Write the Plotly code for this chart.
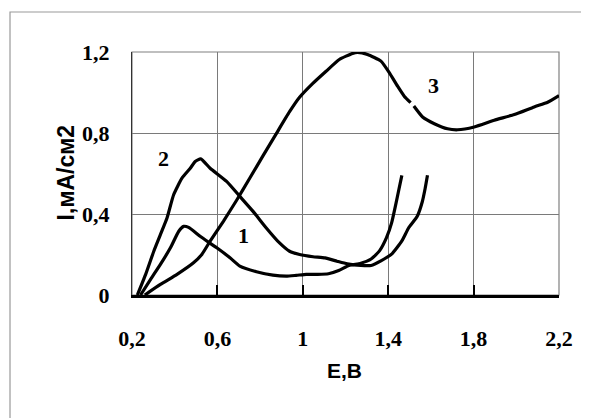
import plotly.graph_objects as go

# Curve 1
x1 = [0.24, 0.287, 0.333, 0.38, 0.419, 0.442, 0.465, 0.519, 0.597, 0.659, 0.705, 0.783, 0.86, 0.922,
      0.969, 1.016, 1.07, 1.12, 1.168, 1.216, 1.272, 1.32, 1.36, 1.392, 1.416, 1.435, 1.451, 1.464]
y1 = [0.0, 0.077, 0.151, 0.233, 0.315, 0.339, 0.334, 0.29, 0.233, 0.184, 0.143, 0.115, 0.098, 0.093,
      0.097, 0.102, 0.102, 0.105, 0.121, 0.146, 0.157, 0.178, 0.219, 0.283, 0.356, 0.445, 0.526, 0.591]

# Curve 2
x2 = [0.225, 0.264, 0.302, 0.333, 0.364, 0.395, 0.434, 0.473, 0.496, 0.522, 0.566, 0.643, 0.705,
      0.767, 0.829, 0.891, 0.938, 0.985, 1.048, 1.104, 1.16, 1.208, 1.272, 1.32, 1.368, 1.416, 1.464,
      1.496, 1.536, 1.56, 1.573, 1.584]
y2 = [0.0, 0.102, 0.216, 0.298, 0.38, 0.495, 0.577, 0.626, 0.659, 0.672, 0.626, 0.561, 0.487,
      0.413, 0.331, 0.257, 0.216, 0.2, 0.189, 0.183, 0.167, 0.154, 0.146, 0.146, 0.17, 0.202, 0.267,
      0.332, 0.389, 0.462, 0.526, 0.591]

# Curve 3 (small break in the original line near E=1.51)
x3 = [0.26, 0.333, 0.411, 0.488, 0.527, 0.566, 0.628, 0.69, 0.752, 0.814, 0.876, 0.938, 0.984,
      1.047, 1.109, 1.171, 1.233, 1.256, 1.303, 1.366, 1.405, 1.444, 1.475, 1.505, None,
      1.52, 1.561, 1.616, 1.678, 1.725, 1.803, 1.897, 1.991, 2.084, 2.147, 2.2]
y3 = [0.0, 0.052, 0.102, 0.159, 0.2, 0.266, 0.364, 0.468, 0.578, 0.688, 0.797, 0.905, 0.975,
      1.045, 1.105, 1.163, 1.193, 1.198, 1.188, 1.155, 1.098, 1.031, 0.982, 0.95, None,
      0.933, 0.879, 0.846, 0.821, 0.816, 0.83, 0.863, 0.891, 0.929, 0.952, 0.985]

x_ticks = [0.2, 0.6, 1.0, 1.4, 1.8, 2.2]
x_tick_text = ["0,2", "0,6", "1", "1,4", "1,8", "2,2"]
y_ticks = [0, 0.4, 0.8, 1.2]
y_tick_text = ["0", "0,4", "0,8", "1,2"]

curve_labels = ["1", "2", "3"]
label_x = [0.723, 0.348, 1.613]
label_y = [0.296, 0.675, 1.037]

x_title = "E,B"
y_title = "I,мА/см2"

fig = go.Figure()
for xs, ys in [(x1, y1), (x2, y2), (x3, y3)]:
    fig.add_trace(go.Scatter(x=xs, y=ys, mode="lines",
                             line=dict(color="black", width=3.2, shape="spline", smoothing=0.5),
                             connectgaps=False, showlegend=False, hoverinfo="skip"))

serif = "Liberation Serif, Times New Roman, serif"
sans = "Liberation Sans, Arial, sans-serif"

for t, lx, ly in zip(curve_labels, label_x, label_y):
    fig.add_annotation(x=lx, y=ly, text=t, showarrow=False,
                       font=dict(family=serif, size=22, color="black", weight="bold"))

fig.add_annotation(xref="paper", yref="paper", x=-0.19, y=0.504, text=y_title,
                   textangle=-90, showarrow=False,
                   font=dict(family=sans, size=23, color="black", weight="bold"))
fig.add_annotation(xref="paper", yref="paper", x=0.4977, y=-0.366, text=x_title,
                   showarrow=False, font=dict(family=sans, size=21, color="black", weight="bold"))

# plot area border
fig.add_shape(type="rect", xref="paper", yref="paper", x0=0, y0=0, x1=1, y1=1,
              line=dict(color="#808080", width=1.2), layer="below")
# outer chart border
fig.add_shape(type="rect", xref="paper", yref="paper", x0=-0.2857, y0=-0.56, x1=1.0585, y1=1.1646,
              line=dict(color="#9a9a9a", width=1.2), layer="below")

tickfont = dict(family=serif, size=22, color="black", weight="bold")
fig.update_xaxes(range=[0.2, 2.2], tickvals=x_ticks, ticktext=x_tick_text,
                 showgrid=True, gridcolor="#7a7a7a", gridwidth=1,
                 showline=True, linecolor="black", linewidth=2.5,
                 ticks="inside", ticklen=10, tickwidth=1.5, tickcolor="black",
                 ticklabelstandoff=22, tickfont=tickfont,
                 zeroline=False, fixedrange=True)
fig.update_yaxes(range=[0, 1.2], tickvals=y_ticks, ticktext=y_tick_text,
                 showgrid=True, gridcolor="#7a7a7a", gridwidth=1,
                 showline=True, linecolor="#333333", linewidth=1,
                 ticks="", ticklabelstandoff=17, tickfont=tickfont,
                 zeroline=False, fixedrange=True)

# page body has an 8px margin, so the figure is offset by 8px
fig.update_layout(width=581, height=410,
                  margin=dict(l=124, r=30, t=44, b=123, pad=0),
                  paper_bgcolor="white", plot_bgcolor="white")

fig.write_html("out.html")
